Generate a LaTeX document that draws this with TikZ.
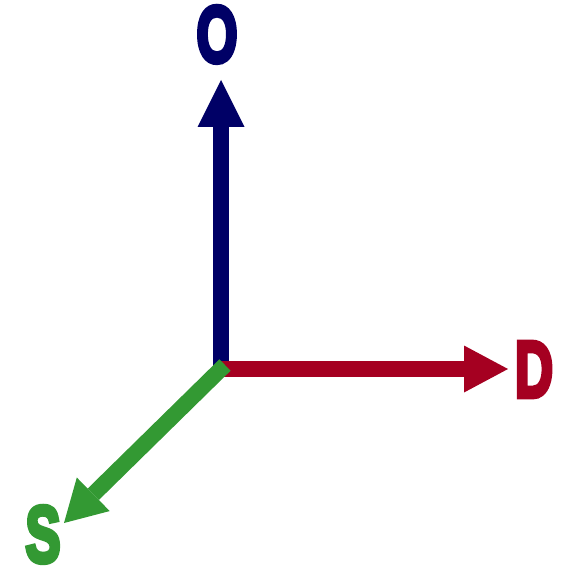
\documentclass[tikz,border=0pt]{standalone}
\usepackage{fontspec}
\setmainfont{Liberation Sans}
\newfontfamily\heavyfont{Liberation Sans Bold}[FakeBold=6]
\usepackage{tikz}
\usetikzlibrary{arrows.meta, calc}
\definecolor{axnavy}{RGB}{0,0,102}
\definecolor{axred}{RGB}{165,0,33}
\definecolor{axgreen}{RGB}{51,153,51}

\begin{document}
\begin{tikzpicture}[x=1pt, y=-1pt,
  axis/.style={line width=16pt, line cap=square},
  tipO/.style={-{Triangle[length=47pt, width=47pt, line width=0pt]}},
  tipD/.style={-{Triangle[length=44pt, width=47pt, line width=0pt]}},
  tipS/.style={-{Triangle[length=41pt, width=47pt, line width=0pt]}},
  lbl/.style={font=\fontsize{80}{80}\heavyfont, inner sep=0pt,
              anchor=base, xscale=0.66}
]
  \useasboundingbox (0,0) rectangle (563,569);

  % Origin and tips
  \coordinate (orig) at (221,369);
  \coordinate (endO) at (221,80);
  \coordinate (endD) at (508,369);
  \coordinate (endS) at (64,523);

  % Axes
  \draw[axis, tipO, axnavy] (orig) -- (endO);
  \draw[axis, tipD, axred] (orig) -- (endD);
  \draw[axis, tipS, axgreen, line cap=butt] ($(orig)+(4,-4)$) -- (endS);

  % Labels
  \node[lbl, text=axnavy] (labO) at (217,62) {O};
  \node[lbl, text=axred] (labD) at (534,397) {D};
  \node[lbl, text=axgreen] (labS) at (43,562) {S};
\end{tikzpicture}
\end{document}
